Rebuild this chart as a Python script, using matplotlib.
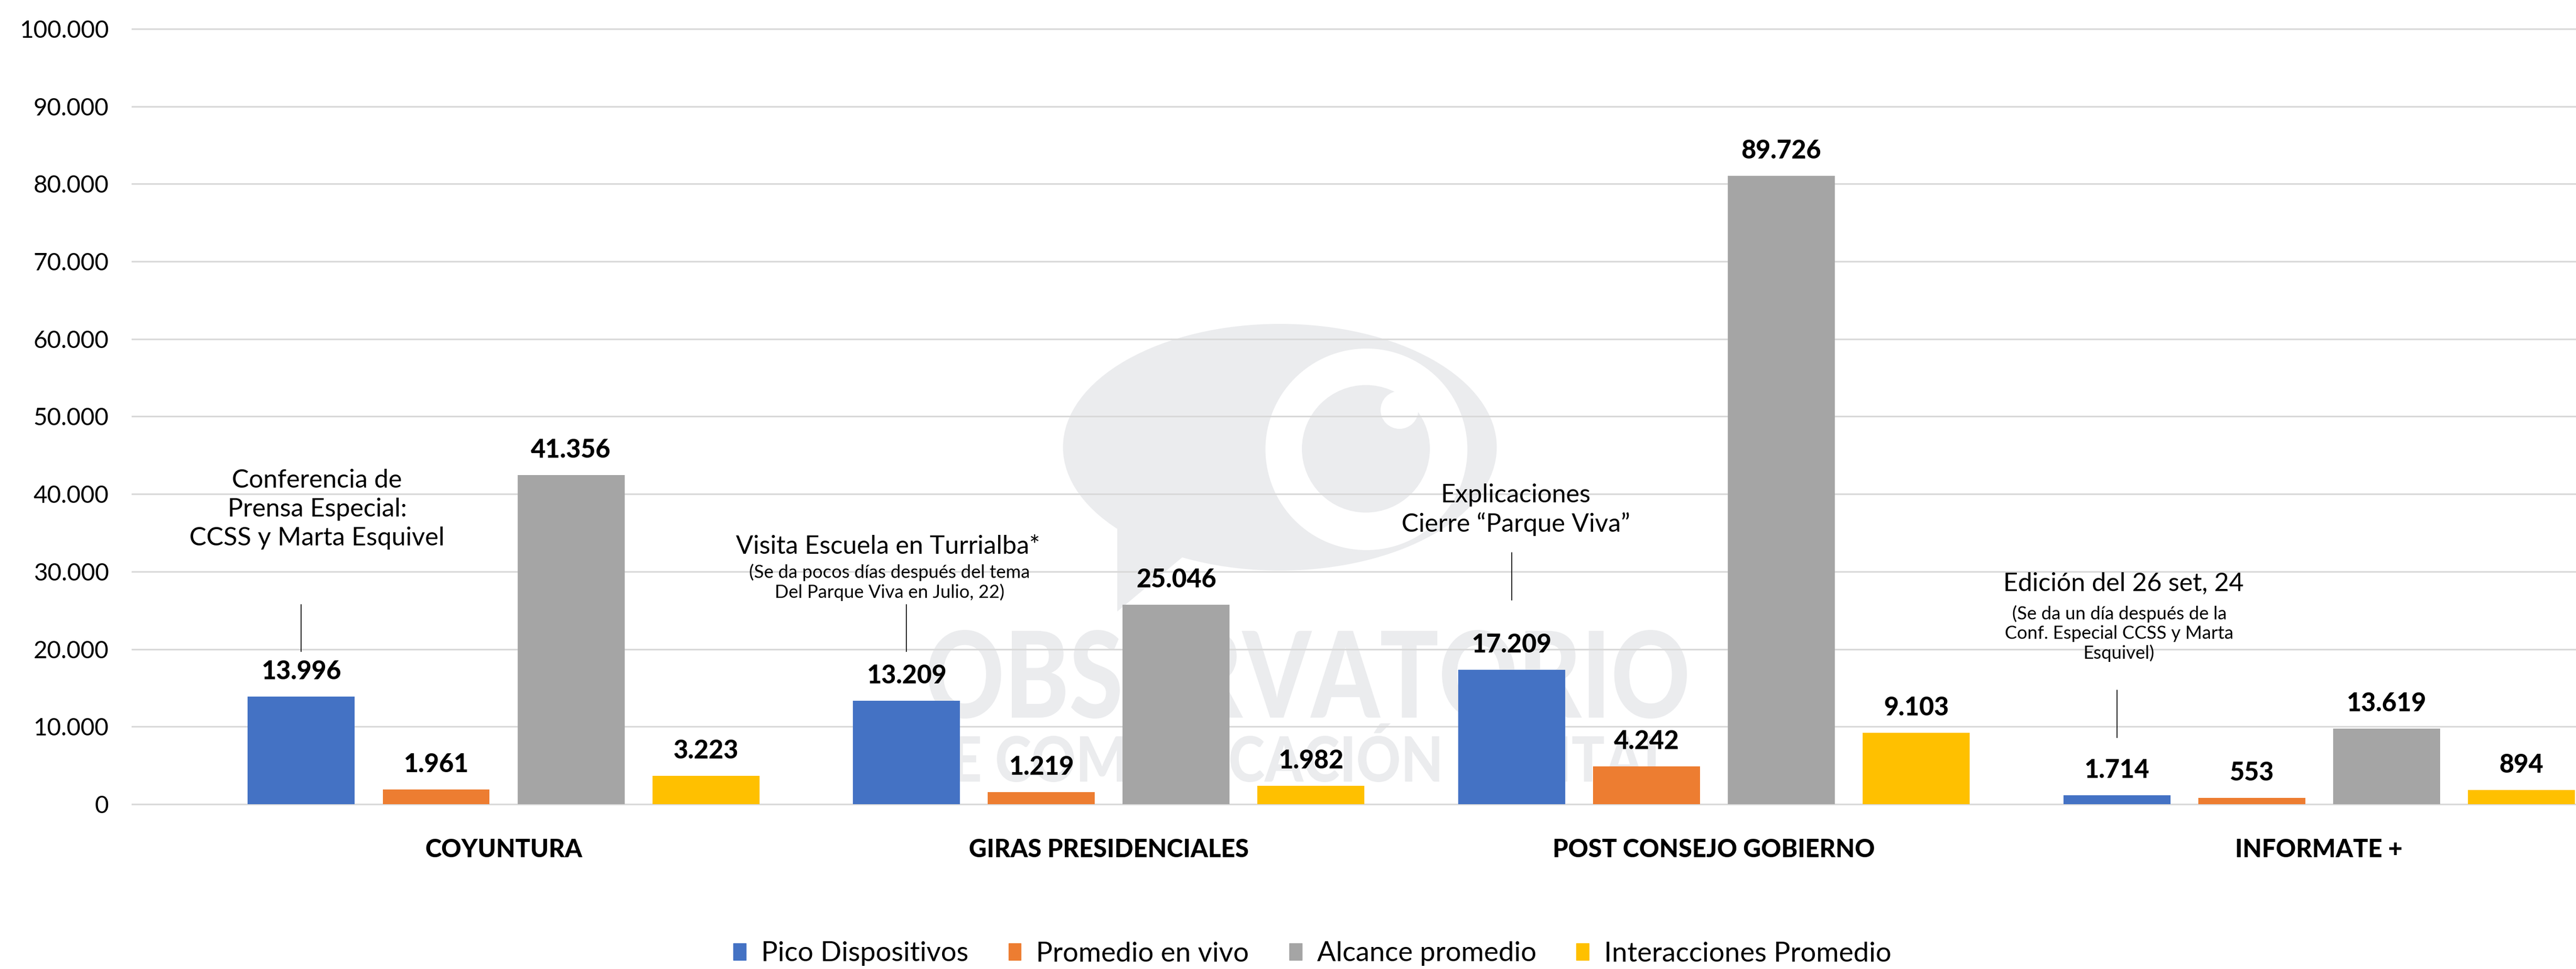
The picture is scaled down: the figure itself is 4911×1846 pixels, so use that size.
import matplotlib
matplotlib.use('Agg')
import matplotlib.pyplot as plt
import numpy as np
from matplotlib.patches import Patch, Ellipse, PathPatch, Polygon
from matplotlib.textpath import TextPath
from matplotlib.font_manager import FontProperties
from matplotlib.transforms import Affine2D

plt.rcParams['font.family'] = ['Lato', 'DejaVu Sans']

categories = ['COYUNTURA', 'GIRAS PRESIDENCIALES', 'POST CONSEJO GOBIERNO', 'INFORMATE +']
series = ['Pico Dispositivos', 'Promedio en vivo', 'Alcance promedio', 'Interacciones Promedio']
colors = ['#4472C4', '#ED7D31', '#A5A5A5', '#FFC000']

# bar heights as drawn in the picture
pico = [13880, 13340, 17330, 1150]
promedio = [1900, 1560, 4870, 810]
alcance = [42450, 25730, 81040, 9750]
interacciones = [3660, 2370, 9210, 1830]

# value labels printed over the bars
pico_labels = ['13.996', '13.209', '17.209', '1.714']
promedio_labels = ['1.961', '1.219', '4.242', '553']
alcance_labels = ['41.356', '25.046', '89.726', '13.619']
interacciones_labels = ['3.223', '1.982', '9.103', '894']

notes = ['Conferencia de\nPrensa Especial:\nCCSS y Marta Esquivel',
         'Visita Escuela en Turrialba*',
         'Explicaciones\nCierre \u201cParque Viva\u201d',
         'Edici\u00f3n del 26 set, 24']
subnotes = [None,
            '(Se da pocos d\u00edas despu\u00e9s del tema\nDel Parque Viva en Julio, 22)',
            None,
            '(Se da un d\u00eda despu\u00e9s de la\nConf. Especial CCSS y Marta\nEsquivel)']

W, H = 4911, 1846
def fx(x):
    return x / W
def fy(y):
    return 1 - y / H

fig = plt.figure(figsize=(W / 100, H / 100), dpi=100)
ax = fig.add_axes([fx(252), fy(1532), fx(4911) - fx(252), fy(55) - fy(1532)])

# watermark (logo + text), behind grid and bars
wm = '#ebecee'
def fig_ellipse(cx, cy, w, h, color):
    ax.add_artist(Ellipse((fx(cx), fy(cy)), w / W, h / H, transform=fig.transFigure,
                          color=color, lw=0, zorder=0.2, clip_on=False))

def fit_text(s, x0, y0, x1, y1):
    tp = TextPath((0, 0), s, size=100, prop=FontProperties(family='Lato', weight='black'))
    ext = tp.get_extents()
    sx = (fx(x1) - fx(x0)) / ext.width
    sy = (fy(y0) - fy(y1)) / ext.height
    tr = Affine2D().translate(-ext.x0, -ext.y0).scale(sx, sy).translate(fx(x0), fy(y1)) + fig.transFigure
    ax.add_artist(PathPatch(tp, transform=tr, color=wm, lw=0, zorder=0.2, clip_on=False))

fig_ellipse(2440, 852, 827, 470, wm)
ax.add_artist(Polygon([(fx(2130), fy(980)), (fx(2130), fy(1165)), (fx(2280), fy(1040))],
                      transform=fig.transFigure, color=wm, lw=0, zorder=0.2, clip_on=False))
fig_ellipse(2605, 856, 385, 384, 'white')
fig_ellipse(2604, 855, 244, 243, wm)
fig_ellipse(2668, 781, 72, 72, 'white')
fit_text('OBSERVATORIO', 1770, 1200, 3216, 1369)
fit_text('DE COMUNICACI\u00d3N DIGITAL', 1740, 1378, 3186, 1490)

x = np.arange(len(categories))
step = 0.2228
width = 0.1768
values = [pico, promedio, alcance, interacciones]
labels = [pico_labels, promedio_labels, alcance_labels, interacciones_labels]
for i in range(4):
    xs = x + (i - 1.5) * step
    ax.bar(xs, values[i], width, color=colors[i], zorder=2)
    for xi, v, lab in zip(xs, values[i], labels[i]):
        ax.annotate(lab, (xi, v), xytext=(0, 33), textcoords='offset pixels',
                    ha='center', va='baseline', fontsize=35, fontweight='black')

# notes with their pointer lines
blue_x = x - 1.5 * step
note_pos = [(0.026, 38050), (-0.031, 33240), (0.007, 37980), (0.011, 28500)]
sub_pos = [None, (-0.028, 28600), None, (0.004, 22000)]
line_span = [(19700, 25730), (19700, 25730), (26340, 32430), (8600, 14690)]
for i in range(4):
    ax.plot([blue_x[i], blue_x[i]], line_span[i], color='black', lw=1.2, zorder=3)
    dx, ty = note_pos[i]
    ax.text(blue_x[i] + dx, ty, notes[i], ha='center', va='center', fontsize=35,
            linespacing=1.3, zorder=3)
    if subnotes[i]:
        sdx, sy = sub_pos[i]
        ax.text(blue_x[i] + sdx, sy, subnotes[i], ha='center', va='center', fontsize=25,
                linespacing=1.18, zorder=3)

ax.set_xlim(-0.6137, 3.4246)
ax.set_ylim(0, 100000)
yt = np.arange(0, 100001, 10000)
ax.set_yticks(yt)
ax.set_yticklabels([f'{v:,}'.replace(',', '.') for v in yt])
ax.set_xticks(x)
ax.set_xticklabels(categories, fontweight='black')
ax.tick_params(axis='y', length=0, pad=32, labelsize=33)
ax.tick_params(axis='x', length=0, pad=47, labelsize=34)
ax.grid(axis='y', color='#d9d9d9', lw=2.2)
ax.set_axisbelow(True)
for gl in ax.yaxis.get_gridlines():
    gl.set_clip_on(False)
for s in ax.spines.values():
    s.set_visible(False)

handles = [Patch(color=c) for c in colors]
fig.legend(handles, series, loc='center', bbox_to_anchor=(fx(2502), fy(1817)), ncol=4,
           frameon=False, fontsize=38, handlelength=0.45, handleheight=0.55,
           handletextpad=0.55, columnspacing=1.45)

fig.savefig('out.png', dpi=100)
